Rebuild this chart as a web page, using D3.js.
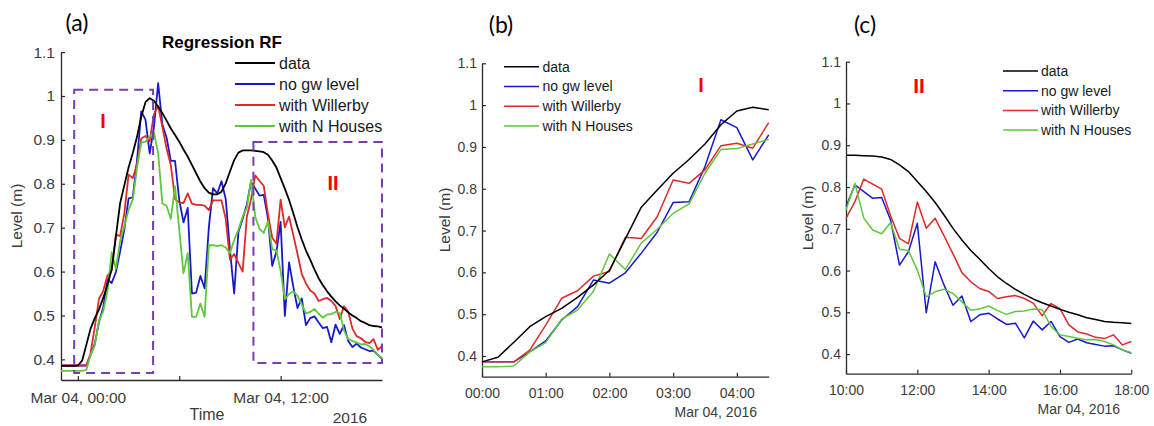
<!DOCTYPE html>
<html><head><meta charset="utf-8">
<script src="https://cdn.jsdelivr.net/npm/d3@7"></script>
<style>
body{margin:0;background:#fff;}
svg{display:block;font-family:"Liberation Sans",Arial,sans-serif;}
</style></head><body>
<svg id="chart" width="1154" height="426"></svg>
<script>
// ---- data (15-minute samples, 2016-03-03 23:00 to 2016-03-04 18:00) ----
const startTime = new Date(2016, 2, 3, 23, 0);
const stepMinutes = 15;
const seriesNames = ["data", "no gw level", "with Willerby", "with N Houses"];
const seriesColors = ["#000000", "#1818cc", "#dd2a2a", "#5fc83c"];

const dataLevel = [0.385,0.385,0.385,0.385,
 0.386,0.397,0.433,0.470,0.494,0.514,0.540,0.570,0.605,0.680,0.756,0.797,0.837,0.870,0.907,0.953,0.986,0.995,0.989,
 0.976,0.961,0.944,0.926,0.911,0.896,0.878,0.862,0.843,0.824,0.805,0.790,0.780,0.776,0.776,0.782,0.801,0.828,0.854,0.871,0.876,
 0.876,0.876,0.875,0.874,0.872,0.866,0.853,0.837,0.813,0.789,0.763,0.733,0.701,0.673,0.648,0.627,0.605,0.585,0.569,0.555,0.543,0.532,0.523,0.515,0.507,0.500,0.494,0.487,0.483,0.478,0.476,0.475,0.473];

const noGwLevel = [0.386,0.386,0.386,0.386,
 0.386,0.386,0.386,0.410,0.436,0.486,0.518,0.582,0.574,0.599,0.646,0.696,0.767,0.769,0.853,0.965,0.946,0.869,0.929,
 1.029,0.935,0.905,0.852,0.852,0.763,0.712,0.745,0.550,0.552,0.590,0.562,0.700,0.790,0.778,0.806,0.765,0.650,0.550,0.690,0.720,
 0.753,0.805,0.789,0.773,0.775,0.721,0.613,0.645,0.713,0.499,0.621,0.565,0.517,0.539,0.478,0.494,0.498,0.484,0.471,0.474,0.439,0.479,0.458,0.478,0.442,0.428,0.436,0.427,0.423,0.419,0.420,0.410,0.402];

const withWillerby = [0.386,0.386,0.386,0.386,
 0.386,0.386,0.386,0.414,0.474,0.538,0.556,0.591,0.602,0.684,0.681,0.733,0.821,0.813,0.845,0.903,0.909,0.897,0.958,
 0.977,0.930,0.880,0.843,0.765,0.757,0.756,0.778,0.755,0.752,0.752,0.750,0.740,0.762,0.762,0.762,0.720,0.627,0.640,0.620,0.600,
 0.725,0.765,0.819,0.807,0.795,0.731,0.677,0.664,0.764,0.701,0.725,0.683,0.640,0.595,0.573,0.557,0.550,0.533,0.537,0.540,0.533,0.522,0.492,0.521,0.509,0.470,0.453,0.448,0.440,0.437,0.446,0.422,0.430];

const withNHouses = [0.374,0.374,0.374,0.374,
 0.374,0.374,0.376,0.410,0.432,0.488,0.510,0.555,0.644,0.607,0.670,0.703,0.741,0.764,0.837,0.894,0.896,0.907,0.918,
 0.870,0.755,0.750,0.720,0.794,0.695,0.596,0.642,0.497,0.497,0.527,0.497,0.660,0.660,0.658,0.660,0.655,0.642,0.672,0.695,0.725,
 0.745,0.809,0.725,0.697,0.688,0.715,0.651,0.648,0.601,0.537,0.549,0.555,0.545,0.525,0.505,0.508,0.515,0.504,0.495,0.502,0.503,0.508,0.506,0.466,0.446,0.442,0.438,0.434,0.435,0.430,0.422,0.410,0.403];

const yTickValues = [0.4, 0.5, 0.6, 0.7, 0.8, 0.9, 1.0, 1.1];
const yTickLabels = ["0.4", "0.5", "0.6", "0.7", "0.8", "0.9", "1", "1.1"];
const aTickHours = [0, 6, 12];
const aTickLabels = ["Mar 04, 00:00", "", "Mar 04, 12:00"];
const bTickHours = [0, 1, 2, 3, 4];
const bTickLabels = ["00:00", "01:00", "02:00", "03:00", "04:00"];
const cTickHours = [10, 12, 14, 16, 18];
const cTickLabels = ["10:00", "12:00", "14:00", "16:00", "18:00"];
// highlighted regions in panel (a): [fromHour, toHour, lowLevel, highLevel]
const regionI = [-0.22, 4.45, 0.369, 1.014];
const regionII = [10.39, 18.0, 0.392, 0.895];

// ---- helpers ----
const hourToDate = h => new Date(2016, 2, 4, 0, 0).getTime() + h * 3600000;
const times = dataLevel.map((_, i) => new Date(startTime.getTime() + i * stepMinutes * 60000));
const allSeries = [dataLevel, noGwLevel, withWillerby, withNHouses];

const svg = d3.select("#chart");

function drawPanel(cfg) {
  const g = svg.append("g");
  const x = d3.scaleTime().domain([new Date(hourToDate(cfg.h0)), new Date(hourToDate(cfg.h1))]).range(cfg.xr);
  const y = d3.scaleLinear().domain(cfg.yd).range(cfg.yr);

  const xa = d3.axisBottom(x)
    .tickValues(cfg.ticks.map(h => new Date(hourToDate(h))))
    .tickFormat((d, i) => cfg.tickLabels[i])
    .tickSizeInner(-4).tickSizeOuter(0).tickPadding(cfg.xPad);
  const gx = g.append("g").attr("transform", `translate(0,${cfg.yr[0]})`).call(xa);
  const ya = d3.axisLeft(y)
    .tickValues(yTickValues)
    .tickFormat((d, i) => yTickLabels[i])
    .tickSizeInner(-4).tickSizeOuter(0).tickPadding(cfg.yPad);
  const gy = g.append("g").attr("transform", `translate(${cfg.xr[0]},0)`).call(ya);
  [gx, gy].forEach(a => {
    a.attr("font-family", null);
    a.select(".domain").attr("stroke", "#2a2a2a").attr("stroke-width", 1.3);
    a.selectAll(".tick line").attr("stroke", "#2a2a2a").attr("stroke-width", 1.2);
    a.selectAll(".tick text").attr("fill", "#3c3c3c").attr("font-size", cfg.tickFont);
  });

  const t0 = x.domain()[0].getTime(), t1 = x.domain()[1].getTime();
  const idx = times.map((t, i) => i).filter(i => times[i].getTime() >= t0 - 1 && times[i].getTime() <= t1 + 1);
  const line = d3.line().x(i => x(times[i]));
  [1, 2, 3, 0].forEach(s => {
    g.append("path")
      .attr("d", line.y(i => y(allSeries[s][i]))(idx))
      .attr("fill", "none").attr("stroke", seriesColors[s])
      .attr("stroke-width", cfg.lw).attr("stroke-linejoin", "round");
  });

  g.append("text")
    .attr("transform", `translate(${cfg.ylabX},${cfg.ylabY}) rotate(-90)`)
    .attr("text-anchor", "middle").attr("dy", "0.35em")
    .attr("font-size", 15.5).attr("fill", "#3c3c3c").text("Level (m)");

  seriesNames.forEach((name, s) => {
    const yy = cfg.leg.y + s * cfg.leg.dy;
    g.append("line").attr("x1", cfg.leg.x1).attr("x2", cfg.leg.x2).attr("y1", yy).attr("y2", yy)
      .attr("stroke", seriesColors[s]).attr("stroke-width", cfg.lw);
    g.append("text").attr("x", cfg.leg.tx).attr("y", yy).attr("dy", "0.35em")
      .attr("font-size", cfg.leg.fs).attr("fill", "#1a1a1a").text(name);
  });

  g.append("text").attr("x", cfg.letter[0]).attr("y", cfg.letter[1]).attr("dy", "0.35em")
    .attr("text-anchor", "middle").attr("font-family", "Lato, 'Open Sans', sans-serif")
    .attr("font-size", 23).attr("fill", "#000").text(cfg.letter[2]);

  return {g, x, y};
}

// Panel (a)
const A = drawPanel({
  h0: -1, h1: 18, xr: [61, 382], yd: [0.353, 1.1], yr: [380, 52.1],
  ticks: aTickHours, tickLabels: aTickLabels, xPad: 11.5, yPad: 6, tickFont: 15.5, lw: 1.8,
  ylabX: 17, ylabY: 216,
  leg: {x1: 235, x2: 275, tx: 279, y: 63, dy: 21, fs: 16},
  letter: [77, 23, "(a)"]
});
A.g.append("text").attr("x", 222).attr("y", 42).attr("dy", "0.35em").attr("text-anchor", "middle")
  .attr("font-weight", "bold").attr("font-size", 17).text("Regression RF");
A.g.append("text").attr("x", 207).attr("y", 414).attr("dy", "0.35em").attr("text-anchor", "middle")
  .attr("font-size", 16).attr("fill", "#3c3c3c").text("Time");
A.g.append("text").attr("x", 350).attr("y", 418).attr("dy", "0.35em").attr("text-anchor", "middle")
  .attr("font-size", 15.5).attr("fill", "#3c3c3c").text("2016");
[regionI, regionII].forEach(r => {
  const x0 = A.x(new Date(hourToDate(r[0]))), x1 = A.x(new Date(hourToDate(r[1])));
  const y0 = A.y(r[3]), y1 = A.y(r[2]);
  A.g.append("rect").attr("x", x0).attr("y", y0).attr("width", x1 - x0).attr("height", y1 - y0)
    .attr("fill", "none").attr("stroke", "#7a3db0").attr("stroke-width", 2).attr("stroke-dasharray", "9,6");
});
A.g.append("text").attr("x", 103).attr("y", 121).attr("dy", "0.35em").attr("text-anchor", "middle")
  .attr("font-weight", "bold").attr("font-size", 20).attr("fill", "#ff0000").text("I");
A.g.append("text").attr("x", 333).attr("y", 183).attr("dy", "0.35em").attr("text-anchor", "middle")
  .attr("font-weight", "bold").attr("font-size", 20).attr("fill", "#ff0000").text("II");

// Panel (b)
const B = drawPanel({
  h0: 0, h1: 4.5, xr: [482, 768.7], yd: [0.3505, 1.1], yr: [376.7, 63.3],
  ticks: bTickHours, tickLabels: bTickLabels, xPad: 11, yPad: 5, tickFont: 14, lw: 1.5,
  ylabX: 445, ylabY: 220,
  leg: {x1: 504, x2: 539, tx: 542.5, y: 66.7, dy: 19.8, fs: 14},
  letter: [501, 25, "(b)"]
});
B.g.append("text").attr("x", 757).attr("y", 412).attr("dy", "0.35em").attr("text-anchor", "end")
  .attr("font-size", 14).attr("fill", "#3c3c3c").text("Mar 04, 2016");
B.g.append("text").attr("x", 701).attr("y", 85).attr("dy", "0.35em").attr("text-anchor", "middle")
  .attr("font-weight", "bold").attr("font-size", 20).attr("fill", "#ff0000").text("I");

// Panel (c)
const C = drawPanel({
  h0: 10, h1: 18, xr: [846, 1131.3], yd: [0.353, 1.1], yr: [373.7, 61.7],
  ticks: cTickHours, tickLabels: cTickLabels, xPad: 11, yPad: 5, tickFont: 14, lw: 1.5,
  ylabX: 808, ylabY: 218,
  leg: {x1: 1003, x2: 1038, tx: 1041, y: 71, dy: 19.7, fs: 14},
  letter: [865, 25, "(c)"]
});
C.g.append("text").attr("x", 1120).attr("y", 409).attr("dy", "0.35em").attr("text-anchor", "end")
  .attr("font-size", 14).attr("fill", "#3c3c3c").text("Mar 04, 2016");
C.g.append("text").attr("x", 919).attr("y", 86).attr("dy", "0.35em").attr("text-anchor", "middle")
  .attr("font-weight", "bold").attr("font-size", 21).attr("fill", "#ff0000").text("II");
</script>
</body></html>
